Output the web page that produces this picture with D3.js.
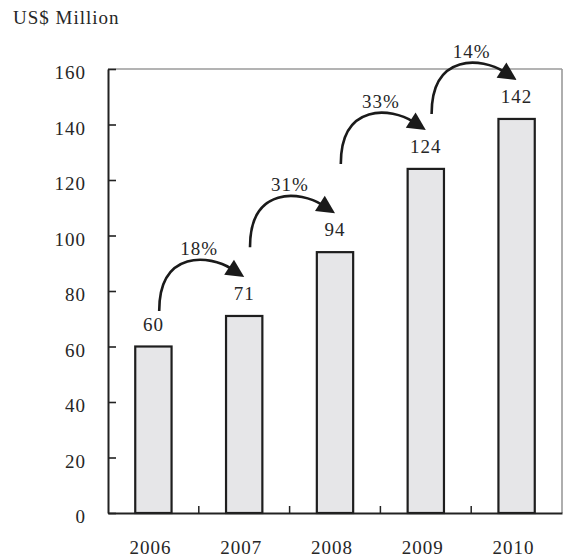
<!DOCTYPE html>
<html>
<head>
<meta charset="utf-8">
<script src="https://cdn.jsdelivr.net/npm/d3@7"></script>
<style>
  body { margin: 0; background: #fff; }
  text { font-family: "Liberation Serif", "DejaVu Serif", "Times New Roman", serif; fill: #262626; }
</style>
</head>
<body>
<div id="chart"></div>
<script>
// data
var years = ["2006", "2007", "2008", "2009", "2010"];
var revenue = [60, 71, 94, 124, 142];
var growth = ["18%", "31%", "33%", "14%"];
var yTicks = [0, 20, 40, 60, 80, 100, 120, 140, 160];
var unitLabel = "US$ Million";

var w = 564, h = 557;
var margin = {top: 69, right: 2, bottom: 44, left: 108};
var width = w - margin.left - margin.right,
    height = h - margin.top - margin.bottom;

var serif = "Liberation Serif, DejaVu Serif, serif";

var svg = d3.select("#chart").append("svg")
    .attr("width", w)
    .attr("height", h);

var g = svg.append("g")
    .attr("transform", "translate(" + margin.left + "," + margin.top + ")");

var x = d3.scaleBand().domain(years).range([0, width])
    .paddingInner(0.6).paddingOuter(0.3);
var y = d3.scaleLinear().domain([0, 160]).range([height, 0]);

// grey frame on top and right
g.append("line")
    .attr("x1", 0).attr("x2", width).attr("y1", 0).attr("y2", 0)
    .style("stroke", "#9a9a9a").style("stroke-width", 1.6);
g.append("line")
    .attr("x1", width).attr("x2", width).attr("y1", 0).attr("y2", height)
    .style("stroke", "#9a9a9a").style("stroke-width", 1.6);

// bars
g.selectAll(".bar")
    .data(revenue)
    .enter().append("rect")
    .attr("class", "bar")
    .attr("x", function(d, i) { return x(years[i]); })
    .attr("y", function(d) { return y(d); })
    .attr("width", x.bandwidth())
    .attr("height", function(d) { return height - y(d); })
    .style("fill", "#e6e6e8")
    .style("stroke", "#1e1e1e")
    .style("stroke-width", 2.2);

// value labels
g.selectAll(".val")
    .data(revenue)
    .enter().append("text")
    .attr("class", "val")
    .attr("x", function(d, i) { return x(years[i]) + x.bandwidth() / 2; })
    .attr("y", function(d) { return y(d) - 16; })
    .attr("text-anchor", "middle")
    .style("font-family", serif)
    .style("font-size", "19px")
    .style("letter-spacing", "1px")
    .text(function(d) { return d; });

// y axis, ticks pointing inward
var yAxis = d3.axisLeft(y).tickValues(yTicks).tickSize(-8).tickSizeOuter(0).tickPadding(22);
var ya = g.append("g").call(yAxis);
ya.select(".domain").style("stroke", "#222").style("stroke-width", 2);
ya.selectAll(".tick line").style("stroke", "#222").style("stroke-width", 1.6);
ya.selectAll(".tick text")
    .attr("dy", "0.5em")
    .style("font-size", "19px")
    .style("letter-spacing", "1px")
    .style("font-family", serif)
    .style("fill", "#262626");

// x axis, labels at centres
var xAxis = d3.axisBottom(x).tickSize(0).tickPadding(28);
var xa = g.append("g").attr("transform", "translate(0," + height + ")").call(xAxis);
xa.select(".domain").style("stroke", "#222").style("stroke-width", 2);
xa.selectAll(".tick text")
    .attr("dx", "-3px")
    .style("font-size", "19px")
    .style("letter-spacing", "1px")
    .style("font-family", serif)
    .style("fill", "#262626");

// small upward ticks between categories
var gap = x.step() - x.bandwidth();
g.selectAll(".sep")
    .data(years.slice(0, years.length - 1))
    .enter().append("line")
    .attr("class", "sep")
    .attr("x1", function(d) { return x(d) + x.bandwidth() + gap / 2; })
    .attr("x2", function(d) { return x(d) + x.bandwidth() + gap / 2; })
    .attr("y1", height).attr("y2", height - 7)
    .style("stroke", "#222").style("stroke-width", 1.5);

// growth arrows
for (var i = 0; i < growth.length; i++) {
    var cNext = x(years[i + 1]) + x.bandwidth() / 2;
    var tx = cNext, ty = y(revenue[i + 1]) - 39;
    var sx = tx - 85, sy = ty + 34;
    var p1 = [sx, ty - 28], p2 = [tx - 34, ty - 22];

    // direction of the curve at its end
    var dx = tx - p2[0], dy = ty - p2[1];
    var len = Math.sqrt(dx * dx + dy * dy);
    var ux = dx / len, uy = dy / len;
    var headLen = 18, headHalf = 9;
    var bx = tx - ux * headLen, by = ty - uy * headLen;

    var path = d3.path();
    path.moveTo(sx, sy);
    path.bezierCurveTo(p1[0], p1[1], p2[0], p2[1], bx + ux * 3, by + uy * 3);
    g.append("path")
        .attr("d", path.toString())
        .style("fill", "none")
        .style("stroke", "#1a1a1a")
        .style("stroke-width", 2.6);

    g.append("path")
        .attr("d", "M" + tx + "," + ty +
            "L" + (bx - uy * headHalf) + "," + (by + ux * headHalf) +
            "L" + (bx + uy * headHalf) + "," + (by - ux * headHalf) + "Z")
        .style("fill", "#1a1a1a");

    g.append("text")
        .attr("x", sx + 40)
        .attr("y", ty - 22)
        .attr("text-anchor", "middle")
        .style("font-family", serif)
        .style("font-size", "19px")
        .style("letter-spacing", "1px")
        .text(growth[i]);
}

// unit label
svg.append("text")
    .attr("x", 13)
    .attr("y", 24)
    .style("font-family", serif)
    .style("font-size", "19px")
    .style("letter-spacing", "1px")
    .text(unitLabel);
</script>
</body>
</html>
